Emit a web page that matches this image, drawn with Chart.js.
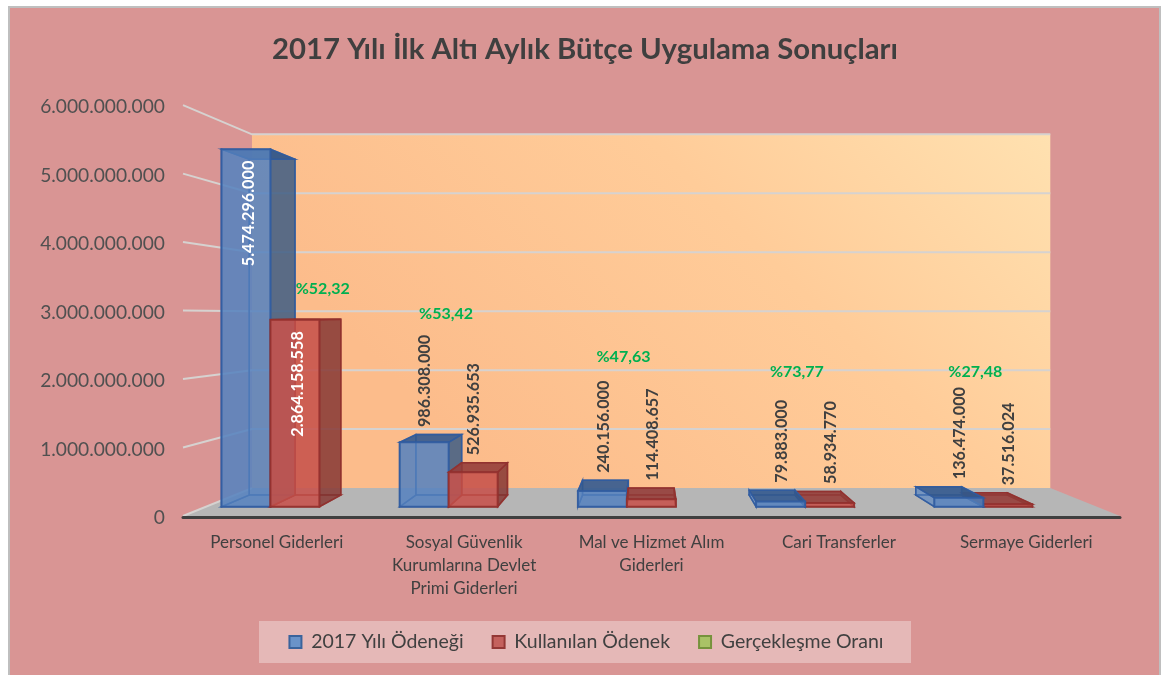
<!DOCTYPE html>
<html lang="tr">
<head>
<meta charset="utf-8">
<title>2017 Yılı İlk Altı Aylık Bütçe Uygulama Sonuçları</title>
<style>html,body{margin:0;padding:0;background:#fff}canvas{display:block}</style>
<script src="https://cdn.jsdelivr.net/npm/chart.js@4"></script>
</head>
<body>
<canvas id="c" width="1162" height="675"></canvas>
<script>
const categories = [
  ['Personel Giderleri'],
  ['Sosyal Güvenlik', 'Kurumlarına Devlet', 'Primi Giderleri'],
  ['Mal ve Hizmet Alım', 'Giderleri'],
  ['Cari Transferler'],
  ['Sermaye Giderleri']
];
const odenek = [5474296000, 986308000, 240156000, 79883000, 136474000];
const kullanilan = [2864158558, 526935653, 114408657, 58934770, 37516024];
const oran = [52.32, 53.42, 47.63, 73.77, 27.48];

// hand-placed rate labels in the source: offset from category tick / axis bottom
const rateNudge = [[46, -227], [-18, -202], [-28, -159], [-42, -144], [-51, -144]];

const FONT = 'Lato, Carlito, sans-serif';
const VP = {x: 649, y: 315};
const KX = 0.148, KY = 0.139;
const T_FRONT = 0.331, T_BACK = 0.748;
const project = (x, y, t) => ({x: VP.x + (x - VP.x) * (1 - KX * t), y: VP.y + (y - VP.y) * (1 - KY * t)});
const dotted = v => String(Math.round(v)).replace(/\B(?=(\d{3})+$)/g, '.');

function poly(ctx, pts, fill, stroke, lw) {
  ctx.beginPath();
  pts.forEach((p, i) => i ? ctx.lineTo(p.x, p.y) : ctx.moveTo(p.x, p.y));
  ctx.closePath();
  if (fill) { ctx.fillStyle = fill; ctx.fill(); }
  if (stroke) { ctx.strokeStyle = stroke; ctx.lineWidth = lw; ctx.lineJoin = 'miter'; ctx.stroke(); }
}

const faceStyles = [
  {edge: 'rgba(48,92,160,0.85)', front: 'rgba(86,130,190,0.76)', side: 'rgba(56,84,120,0.72)', top: 'rgba(52,88,140,0.85)', back: 'rgba(90,135,195,0.45)'},
  {edge: 'rgba(146,48,46,0.85)', front: 'rgba(198,82,76,0.78)', side: 'rgba(125,54,50,0.75)', top: 'rgba(145,60,56,0.82)', back: 'rgba(200,85,80,0.45)'}
];

function drawBar(ctx, bar, st) {
  const x0 = bar.x - bar.width / 2, x1 = bar.x + bar.width / 2, yT = bar.y, yB = bar.base;
  const P = (x, y, t) => project(x, y, t);
  const fTL = P(x0, yT, T_FRONT), fTR = P(x1, yT, T_FRONT), fBL = P(x0, yB, T_FRONT), fBR = P(x1, yB, T_FRONT);
  const bTL = P(x0, yT, T_BACK), bTR = P(x1, yT, T_BACK), bBL = P(x0, yB, T_BACK), bBR = P(x1, yB, T_BACK);
  poly(ctx, [bTL, bTR, bBR, bBL], st.back, st.edge, 1.5);
  poly(ctx, [fBL, fBR, bBR, bBL], st.back, st.edge, 1.5);
  poly(ctx, [fTL, bTL, bBL, fBL], st.back, st.edge, 1.5);
  poly(ctx, [fTR, bTR, bBR, fBR], st.side, st.edge, 1.5);
  poly(ctx, [fTL, fTR, bTR, bTL], st.top, st.edge, 1.5);
  poly(ctx, [fTL, fTR, fBR, fBL], st.front, st.edge, 2);
}

const scene = {
  id: 'scene',
  afterLayout(chart) {
    chart.titleBlock.left += 25; chart.titleBlock.right += 25;
    const lg = chart.legend, lo = lg.options.labels;
    lg.left = 0; lg.right = 1173;
    lg.top = 642 - lo.font.size / 2 - lo.padding;
  },
  beforeDraw(chart) {
    const c = chart.ctx, W = chart.width, H = chart.height;
    c.save();
    c.fillStyle = '#fff'; c.fillRect(0, 0, W, H);
    c.fillStyle = '#D99594'; c.strokeStyle = '#BFBFBF'; c.lineWidth = 2;
    c.beginPath(); c.rect(9, 7, 1151, H + 10); c.fill(); c.stroke();
    // legend panel
    c.fillStyle = 'rgba(255,255,255,0.33)';
    c.fillRect(259, 621, 652, 42);
    c.restore();
  },
  beforeDatasetsDraw(chart) {
    const c = chart.ctx, a = chart.chartArea, ys = chart.scales.y;
    c.save();
    // back wall
    const wTL = project(a.left, a.top, 1), wTR = project(a.right, a.top, 1);
    const wBL = project(a.left, a.bottom, 1), wBR = project(a.right, a.bottom, 1);
    const g = c.createLinearGradient(wTR.x, wTR.y, wTR.x - 450, wTR.y + 450);
    g.addColorStop(0, '#FFE1B0');
    g.addColorStop(0.45, '#FFCC99');
    g.addColorStop(1, '#FCBC8B');
    poly(c, [wTL, wTR, wBR, wBL], g);
    // floor
    poly(c, [{x: a.left, y: a.bottom}, {x: a.right, y: a.bottom}, wBR, wBL], '#B6B6B6');
    // grid lines on the back wall and on the open side wall
    c.lineWidth = 2; c.strokeStyle = '#D6D2D0'; c.lineCap = 'butt';
    ys.ticks.forEach(t => {
      const y = ys.getPixelForValue(t.value);
      const l = {x: a.left, y}, m = project(a.left, y, 1), r = project(a.right, y, 1);
      c.beginPath(); c.moveTo(l.x, l.y); c.lineTo(m.x, m.y);
      if (t.value > 0) c.lineTo(r.x, r.y);
      c.stroke();
    });
    // front axis edge
    c.strokeStyle = '#3F3F3F'; c.lineWidth = 3; c.lineCap = 'round';
    c.beginPath(); c.moveTo(a.left, a.bottom + 1.5); c.lineTo(a.right, a.bottom + 1.5); c.stroke();

    // bars, painted far-from-vanishing-point first
    const bars = [];
    chart.data.datasets.forEach((ds, di) => {
      if (di > 1) return;
      chart.getDatasetMeta(di).data.forEach((bar, i) => bars.push({bar, di, i}));
    });
    bars.sort((p, q) => Math.abs(q.bar.x - VP.x) - Math.abs(p.bar.x - VP.x));
    bars.forEach(b => drawBar(c, b.bar, faceStyles[b.di]));

    // value labels
    c.textBaseline = 'middle';
    bars.forEach(({bar, di, i}) => {
      const v = chart.data.datasets[di].data[i];
      const f = project(bar.x, bar.y, T_FRONT), b = project(bar.x, bar.y, T_BACK);
      const inside = v > 2e9;
      const endY = inside ? f.y + 117 : b.y - 7.5;
      const x = f.x + (inside ? 3 : 1);
      c.save();
      c.translate(x, endY); c.rotate(-Math.PI / 2);
      c.font = 'bold 16.2px ' + FONT;
      c.fillStyle = inside ? '#FFFFFF' : '#404040';
      c.textAlign = 'left';
      c.fillText(dotted(v), 0, 0);
      c.restore();
    });
    // rate labels
    c.font = 'bold 16px ' + FONT; c.fillStyle = '#00B050'; c.textAlign = 'center';
    oran.forEach((v, i) => {
      const [dx, dy] = rateNudge[i];
      c.fillText('%' + v.toFixed(2).replace('.', ','), chart.scales.x.getPixelForTick(i) + dx, a.bottom + dy);
    });
    c.restore();
    return false;
  }
};

new Chart(document.getElementById('c'), {
  type: 'bar',
  data: {
    labels: categories,
    datasets: [
      {label: '2017 Yılı Ödeneği', data: odenek, backgroundColor: '#6A93C9', borderColor: '#3A639C', borderWidth: 2},
      {label: 'Kullanılan Ödenek', data: kullanilan, backgroundColor: '#C4615D', borderColor: '#943735', borderWidth: 2},
      {label: 'Gerçekleşme Oranı', data: oran, backgroundColor: '#A9C266', borderColor: '#76923C', borderWidth: 2}
    ]
  },
  plugins: [scene],
  options: {
    responsive: false,
    animation: false,
    devicePixelRatio: 1,
    events: [],
    datasets: {bar: {categoryPercentage: 0.8246, barPercentage: 1}},
    layout: {padding: {left: 0, right: 42, top: 0, bottom: 0}},
    plugins: {
      tooltip: {enabled: false},
      title: {
        display: true,
        text: '2017 Yılı İlk Altı Aylık Bütçe Uygulama Sonuçları',
        color: '#3F3F3F',
        font: {family: FONT, size: 29.3, weight: 'bold', lineHeight: 1.2},
        padding: {top: 32, bottom: 38}
      },
      legend: {
        position: 'bottom',
        labels: {
          color: '#404040',
          font: {family: FONT, size: 19.5},
          boxWidth: 12,
          boxHeight: 12,
          padding: 29
        }
      }
    },
    scales: {
      x: {
        grid: {display: false},
        border: {display: false},
        ticks: {
          color: '#404040',
          padding: 7,
          maxRotation: 0,
          autoSkip: false,
          font: {family: FONT, size: 17, lineHeight: 1.353}
        },
        afterFit(s) { s.height = 159 - (s.chart.legend ? s.chart.legend.height : 0); }
      },
      y: {
        min: 0,
        max: 6000000000,
        grid: {display: false},
        border: {display: false},
        ticks: {
          stepSize: 1000000000,
          color: '#505050',
          padding: 10,
          labelOffset: 2,
          font: {family: FONT, size: 19.2},
          callback: v => dotted(v)
        },
        afterFit(s) { s.width = 183; }
      }
    }
  }
});
</script>
</body>
</html>
